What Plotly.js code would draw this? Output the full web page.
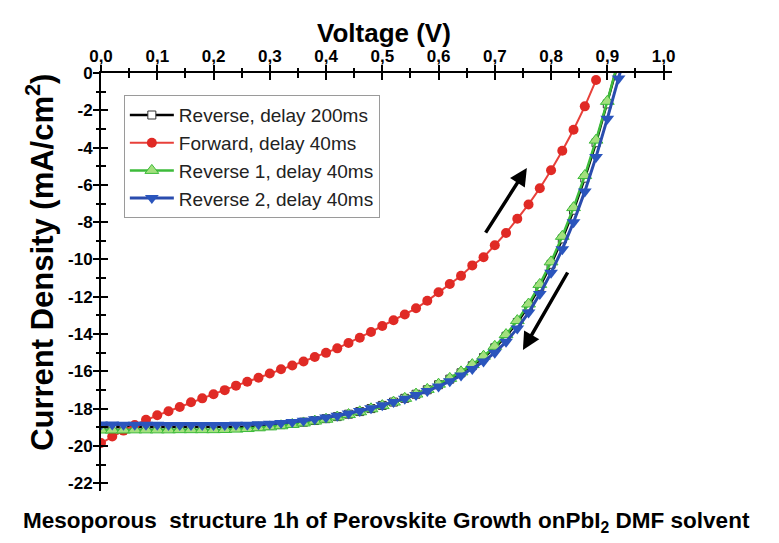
<!DOCTYPE html>
<html>
<head>
<meta charset="utf-8">
<script src="https://cdn.plot.ly/plotly-3.0.1.min.js"></script>
<style>
  html, body { margin: 0; padding: 0; background: #ffffff; }
  #chart { width: 779px; height: 543px; }
  /* tick numbers are set in bold face */
  #chart .xtick text, #chart .ytick text { font-weight: 700 !important; }
</style>
</head>
<body>
<div id="chart"></div>
<script>
// J-V sweeps of a mesoporous perovskite cell (voltage in V, current density in mA/cm2)

const voltageForward = [0.00, 0.02, 0.04, 0.06, 0.08, 0.10, 0.12, 0.14, 0.16, 0.18,
  0.20, 0.22, 0.24, 0.26, 0.28, 0.30, 0.32, 0.34, 0.36, 0.38,
  0.40, 0.42, 0.44, 0.46, 0.48, 0.50, 0.52, 0.54, 0.56, 0.58,
  0.60, 0.62, 0.64, 0.66, 0.68, 0.70, 0.72, 0.74, 0.76, 0.78,
  0.80, 0.82, 0.84, 0.86, 0.88];
const currentForward40 = [-19.85, -19.50, -19.18, -18.88, -18.60, -18.36, -18.14, -17.91, -17.66, -17.45,
  -17.23, -17.01, -16.77, -16.56, -16.35, -16.12, -15.89, -15.69, -15.47, -15.23,
  -15.01, -14.77, -14.48, -14.20, -13.89, -13.57, -13.26, -12.95, -12.62, -12.22,
  -11.76, -11.32, -10.88, -10.32, -9.88, -9.24, -8.58, -7.82, -7.05, -6.18,
  -5.22, -4.17, -3.04, -1.79, -0.38];

const voltageReverse = [0.00, 0.02, 0.04, 0.06, 0.08, 0.10, 0.12, 0.14, 0.16, 0.18,
  0.20, 0.22, 0.24, 0.26, 0.28, 0.30, 0.32, 0.34, 0.36, 0.38,
  0.40, 0.42, 0.44, 0.46, 0.48, 0.50, 0.52, 0.54, 0.56, 0.58,
  0.60, 0.62, 0.64, 0.66, 0.68, 0.70, 0.72, 0.74, 0.76, 0.78,
  0.80, 0.82, 0.84, 0.86, 0.88, 0.90, 0.92, 0.94];
const currentReverse200 = [-19.00, -19.00, -19.00, -19.00, -19.00, -19.00, -19.00, -19.00, -19.00, -19.00,
  -19.00, -19.00, -18.99, -18.97, -18.95, -18.91, -18.86, -18.80, -18.73, -18.64,
  -18.54, -18.43, -18.30, -18.16, -18.00, -17.83, -17.65, -17.45, -17.23, -16.99,
  -16.72, -16.42, -16.08, -15.70, -15.26, -14.74, -14.12, -13.38, -12.50, -11.46,
  -10.26, -8.90, -7.36, -5.64, -3.74, -1.66, 0.55, 2.80];
const currentReverse1 = [-19.15, -19.15, -19.15, -19.14, -19.14, -19.14, -19.14, -19.13, -19.13, -19.13,
  -19.13, -19.12, -19.10, -19.07, -19.03, -18.98, -18.92, -18.85, -18.77, -18.67,
  -18.57, -18.45, -18.32, -18.17, -18.01, -17.84, -17.65, -17.45, -17.22, -16.97,
  -16.69, -16.38, -16.03, -15.64, -15.19, -14.66, -14.03, -13.28, -12.39, -11.34,
  -10.13, -8.76, -7.22, -5.50, -3.60, -1.52, 0.70, 2.95];
const currentReverse2 = [-18.85, -18.85, -18.86, -18.86, -18.87, -18.87, -18.88, -18.88, -18.88, -18.88,
  -18.88, -18.88, -18.87, -18.86, -18.84, -18.81, -18.77, -18.72, -18.65, -18.57,
  -18.48, -18.38, -18.26, -18.13, -17.98, -17.82, -17.65, -17.47, -17.27, -17.06,
  -16.82, -16.54, -16.22, -15.87, -15.48, -15.00, -14.42, -13.70, -12.85, -11.85,
  -10.72, -9.45, -8.00, -6.35, -4.50, -2.45, -0.30, 1.90];

const seriesNames = ['Reverse, delay 200ms', 'Forward, delay 40ms', 'Reverse 1, delay 40ms', 'Reverse 2, delay 40ms'];

const currentTickValues = [0, -2, -4, -6, -8, -10, -12, -14, -16, -18, -20, -22];
const currentTickLabels = ['0', '-2', '-4', '-6', '-8', '-10', '-12', '-14', '-16', '-18', '-20', '-22'];

const xTitleText = 'Voltage (V)';
const yTitleText = 'Current Density (mA/cm<sup>2</sup>)';
const captionText = 'Mesoporous\u00a0 structure 1h of Perovskite Growth onPbI<sub>2</sub> DMF solvent';

const FONT = 'Liberation Sans, Arial, sans-serif';

const traces = [
  {
    name: seriesNames[0], x: voltageReverse, y: currentReverse200,
    mode: 'lines+markers', type: 'scatter',
    line: { color: '#000000', width: 2.5 },
    marker: { symbol: 'square', size: 8, color: '#ffffff', line: { color: '#333333', width: 1 } }
  },
  {
    name: seriesNames[1], x: voltageForward, y: currentForward40,
    mode: 'lines+markers', type: 'scatter',
    line: { color: '#e8403a', width: 2 },
    marker: { symbol: 'circle', size: 10, color: '#e02a25' }
  },
  {
    name: seriesNames[2], x: voltageReverse, y: currentReverse1,
    mode: 'lines+markers', type: 'scatter',
    line: { color: '#3dbb3a', width: 2.5 },
    marker: { symbol: 'triangle-up', size: 12, color: '#a3e07e', line: { color: '#3dbb3a', width: 1 } }
  },
  {
    name: seriesNames[3], x: voltageReverse, y: currentReverse2,
    mode: 'lines+markers', type: 'scatter',
    line: { color: '#2a4cae', width: 3 },
    marker: { symbol: 'triangle-down', size: 12, color: '#2a55bd' }
  },
  // carrier for the second tick set (inner half of the crossing ticks)
  { x: [], y: [], xaxis: 'x2', yaxis: 'y2', showlegend: false, hoverinfo: 'skip', type: 'scatter' }
];

const xRange = [0, 1.015];
const yRange = [-22.42, 0];

const tickFont = { family: FONT, size: 17, color: '#000000', weight: 700 };

const layout = {
  width: 779,
  height: 543,
  margin: { l: 101, r: 107, t: 73, b: 52 },
  paper_bgcolor: '#ffffff',
  plot_bgcolor: '#ffffff',
  separators: ',.',
  showlegend: true,
  font: { family: FONT, color: '#000000' },
  xaxis: {
    range: xRange, side: 'top', anchor: 'y',
    showline: true, linecolor: '#000000', linewidth: 2,
    ticks: 'outside', ticklen: 6, tickwidth: 2, tickcolor: '#000000',
    tick0: 0, dtick: 0.1, tickformat: '.1f', tickfont: tickFont,
    ticklabelstandoff: -4,
    minor: { ticks: 'outside', dtick: 0.05, ticklen: 3, tickwidth: 2, tickcolor: '#000000', showgrid: false },
    showgrid: false, zeroline: false
  },
  xaxis2: {
    range: xRange, side: 'top', anchor: 'y2', overlaying: 'x',
    showline: false, ticks: 'inside', ticklen: 7, tickwidth: 2, tickcolor: '#000000',
    tick0: 0, dtick: 0.1, showticklabels: false,
    minor: { ticks: 'inside', dtick: 0.05, ticklen: 5, tickwidth: 2, tickcolor: '#000000', showgrid: false },
    showgrid: false, zeroline: false
  },
  yaxis: {
    range: yRange, side: 'left', anchor: 'x',
    showline: true, linecolor: '#000000', linewidth: 2,
    ticks: 'outside', ticklen: 6, tickwidth: 2, tickcolor: '#000000',
    tickmode: 'array', tickvals: currentTickValues, ticktext: currentTickLabels, tickfont: tickFont,
    ticklabelstandoff: -3,
    minor: { ticks: 'outside', dtick: 1, tick0: 0, ticklen: 3, tickwidth: 2, tickcolor: '#000000', showgrid: false },
    showgrid: false, zeroline: false
  },
  yaxis2: {
    range: yRange, side: 'left', anchor: 'x2', overlaying: 'y',
    showline: false, ticks: 'inside', ticklen: 7, tickwidth: 2, tickcolor: '#000000',
    tickmode: 'array', tickvals: currentTickValues, showticklabels: false,
    minor: { ticks: 'inside', dtick: 1, tick0: 0, ticklen: 5, tickwidth: 2, tickcolor: '#000000', showgrid: false },
    showgrid: false, zeroline: false
  },
  legend: {
    x: 0.04, y: 0.947, xanchor: 'left', yanchor: 'top',
    bgcolor: '#ffffff', bordercolor: '#9a9a9a', borderwidth: 1,
    font: { family: FONT, size: 19, color: '#222222' },
    tracegroupgap: 0, itemwidth: 44
  },
  annotations: [
    {
      // axis title, voltage
      xref: 'paper', yref: 'paper', x: 0.495, y: 1.0957, xanchor: 'center', yanchor: 'middle',
      text: '<b>' + xTitleText + '</b>', showarrow: false,
      font: { family: FONT, size: 26, color: '#000000' }
    },
    {
      // axis title, current density
      xref: 'paper', yref: 'paper', x: -0.107, y: 0.548, xanchor: 'center', yanchor: 'middle',
      textangle: -90, text: '<b>' + yTitleText + '</b>', showarrow: false,
      font: { family: FONT, size: 31, color: '#000000' }
    },
    {
      // forward sweep direction
      xref: 'x', yref: 'y', axref: 'x', ayref: 'y',
      x: 0.757, y: -5.1, ax: 0.682, ay: -8.64,
      text: '', showarrow: true, arrowhead: 2, arrowsize: 1, arrowwidth: 3.5, arrowcolor: '#000000'
    },
    {
      // reverse sweep direction
      xref: 'x', yref: 'y', axref: 'x', ayref: 'y',
      x: 0.75, y: -14.86, ax: 0.831, ay: -10.62,
      text: '', showarrow: true, arrowhead: 2, arrowsize: 1, arrowwidth: 3.5, arrowcolor: '#000000'
    },
    {
      xref: 'paper', yref: 'paper', x: 0.5, y: -0.075, xanchor: 'center', yanchor: 'middle',
      text: '<b>' + captionText + '</b>', showarrow: false,
      font: { family: FONT, size: 22.5, color: '#000000' }
    }
  ]
};

Plotly.newPlot('chart', traces, layout, { displayModeBar: false, staticPlot: true });
</script>
</body>
</html>
